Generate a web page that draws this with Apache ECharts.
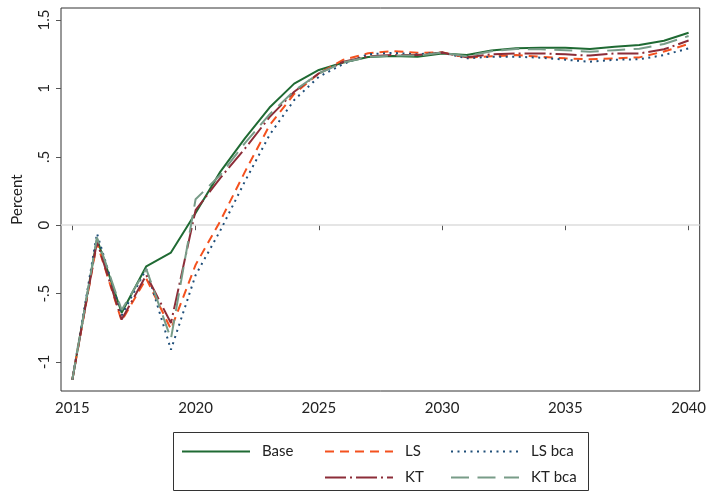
<!DOCTYPE html>
<html>
<head>
<meta charset="utf-8">
<script src="https://cdn.jsdelivr.net/npm/echarts@6/dist/echarts.min.js"></script>
<style>
  html, body { margin: 0; padding: 0; background: #fff; }
  #chart { width: 709px; height: 493px; }
</style>
</head>
<body>
<div id="chart"></div>
<script>
// data
const years = [2015, 2016, 2017, 2018, 2019, 2020, 2021, 2022, 2023, 2024, 2025, 2026, 2027,
  2028, 2029, 2030, 2031, 2032, 2033, 2034, 2035, 2036, 2037, 2038, 2039, 2040]
const base = [-1.13, -0.10, -0.64, -0.30, -0.20, 0.09, 0.39, 0.635, 0.86, 1.035, 1.135, 1.19, 1.23,
  1.237, 1.232, 1.256, 1.244, 1.278, 1.293, 1.298, 1.298, 1.288, 1.305, 1.317, 1.349, 1.407]
const ls = [-1.13, -0.13, -0.70, -0.39, -0.76, -0.29, 0.03, 0.39, 0.73, 0.96, 1.11, 1.21, 1.257,
  1.273, 1.26, 1.264, 1.225, 1.235, 1.244, 1.232, 1.22, 1.213, 1.22, 1.227, 1.27, 1.325]
const lsBca = [-1.13, -0.06, -0.66, -0.32, -0.91, -0.365, -0.04, 0.32, 0.66, 0.915, 1.085, 1.18, 1.25,
  1.26, 1.25, 1.262, 1.22, 1.232, 1.232, 1.225, 1.21, 1.195, 1.21, 1.213, 1.244, 1.293]
const kt = [-1.13, -0.12, -0.69, -0.365, -0.715, 0.11, 0.345, 0.56, 0.79, 0.976, 1.11, 1.195, 1.235,
  1.245, 1.245, 1.262, 1.228, 1.249, 1.256, 1.256, 1.249, 1.24, 1.256, 1.256, 1.286, 1.35]
const ktBca = [-1.13, -0.09, -0.62, -0.32, -0.83, 0.19, 0.367, 0.60, 0.81, 0.983, 1.11, 1.19, 1.23,
  1.24, 1.24, 1.262, 1.235, 1.272, 1.288, 1.286, 1.28, 1.268, 1.28, 1.29, 1.325, 1.383]

const xTicks = [2015, 2020, 2025, 2030, 2035, 2040]
const yTicks = [-1, -0.5, 0, 0.5, 1, 1.5]
const yTickLabels = ['-1', '-.5', '0', '.5', '1', '1.5']

const font = 'Lato'

const chart = echarts.init(document.getElementById('chart'))

const pairs = arr => years.map((y, i) => [y, arr[i]])

const mkSeries = (name, arr, color, dash) => ({
  name,
  type: 'line',
  data: pairs(arr),
  symbol: 'none',
  silent: true,
  animation: false,
  lineStyle: { color, width: 2, type: dash },
  itemStyle: { color }
})

// one legend per entry so the empty cell in row 2 col 1 stays empty
const mkLegend = (name, left, top) => ({
  data: [name],
  left,
  top,
  itemWidth: 68,
  itemHeight: 14,
  padding: 0,
  selectedMode: false,
  itemStyle: { opacity: 0 },
  textStyle: { fontFamily: font, fontSize: 15, color: '#222', padding: [0, 0, 0, 7] }
})

chart.setOption({
  animation: false,
  grid: {
    left: 61, top: 8, right: 7, bottom: 102,
    show: true, borderColor: '#333', borderWidth: 1
  },
  xAxis: {
    type: 'value',
    min: 2014.54,
    max: 2040.45,
    axisLine: { show: false },
    splitLine: { show: false },
    axisTick: { show: true, length: 5, lineStyle: { color: '#555' }, customValues: xTicks },
    axisLabel: {
      customValues: xTicks,
      margin: 10,
      fontFamily: font, fontSize: 15, color: '#222',
      formatter: v => String(Math.round(v))
    }
  },
  yAxis: {
    type: 'value',
    min: -1.212,
    max: 1.588,
    name: 'Percent',
    nameLocation: 'middle',
    nameGap: 36,
    nameTextStyle: { fontFamily: font, fontSize: 15, color: '#222' },
    axisLine: { show: false },
    splitLine: { show: false },
    axisTick: { show: true, length: 5, lineStyle: { color: '#555' }, customValues: yTicks },
    axisLabel: {
      customValues: yTicks,
      rotate: 90,
      margin: 9,
      fontFamily: font, fontSize: 15, color: '#222',
      formatter: v => {
        const i = yTicks.findIndex(t => Math.abs(t - v) < 1e-6)
        return i >= 0 ? yTickLabels[i] : ''
      }
    }
  },
  legend: [
    mkLegend('Base', 181, 444),
    mkLegend('LS', 324, 444),
    mkLegend('LS bca', 450, 444),
    mkLegend('KT', 324, 470),
    mkLegend('KT bca', 450, 470)
  ],
  graphic: [{
    type: 'rect',
    shape: { x: 173.5, y: 432.5, width: 415, height: 58 },
    style: { fill: 'none', stroke: '#333', lineWidth: 1 },
    silent: true
  }],
  series: [
    Object.assign(mkSeries('Base', base, '#1f6a33', 'solid'), {
      markLine: {
        silent: true,
        symbol: 'none',
        label: { show: false },
        lineStyle: { color: '#dddddd', width: 1.5, type: 'solid' },
        data: [{ yAxis: 0 }],
        z: 1
      }
    }),
    mkSeries('LS', ls, '#f4511e', [9, 6]),
    mkSeries('LS bca', lsBca, '#1f4e79', [2, 4.5]),
    mkSeries('KT', kt, '#8c2d38', [21, 4, 2, 4]),
    mkSeries('KT bca', ktBca, '#789c88', [18, 8.5])
  ]
})

window.addEventListener('resize', () => chart.resize())
</script>
</body>
</html>
